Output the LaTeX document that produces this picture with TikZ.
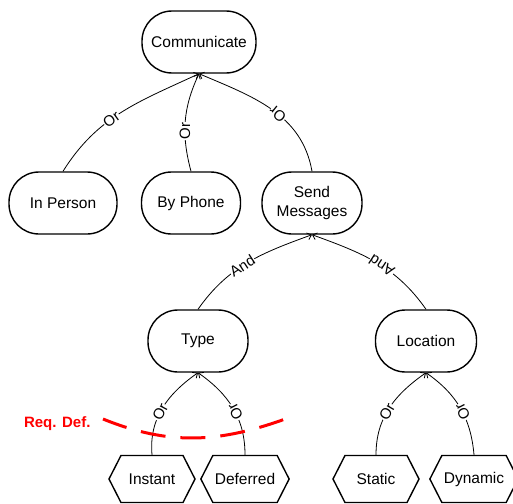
\documentclass[tikz,border=0pt]{standalone}
\usepackage{fontspec}
\setmainfont{Liberation Sans}
\usetikzlibrary{arrows.meta,shapes.symbols}

\begin{document}
\begin{tikzpicture}[x=1pt,y=1pt,
 every node/.style={font=\fontsize{15.5}{19}\selectfont},
 goal/.style={draw,line width=1.4pt,rounded corners=30pt,minimum height=62pt,align=center},
 task/.style={draw,line width=1.4pt,signal,signal to=west and east,signal pointer angle=126,minimum height=47pt,minimum width=86pt,inner xsep=2pt},
 arr/.style={-{Straight Barb[length=4pt,width=7pt]},line width=0.8pt},
 lab/.style={sloped,allow upside down,fill=white,inner sep=0.5pt,pos=0.45,font=\fontsize{15}{17}\selectfont}]
\useasboundingbox (0,0) rectangle (513,-503);
% goals
\node[goal,minimum width=114pt] (comm) at (199,-42) {Communicate};
\node[goal,minimum width=108pt] (inp) at (63,-203) {In Person};
\node[goal,minimum width=99pt] (phone) at (191,-203) {By Phone};
\node[goal,minimum width=100pt] (send) at (312,-203) {Send\\Messages};
\node[goal,minimum width=100pt] (type) at (198,-341) {Type};
\node[goal,minimum width=101pt] (loc) at (426,-341) {Location};
% tasks
\node[task] (inst) at (152,-479) {Instant};
\node[task,minimum width=84pt] (def) at (245,-479) {Deferred};
\node[task] (stat) at (376,-479) {Static};
\node[task,minimum width=88pt] (dyn) at (474,-479) {Dynamic};
% decompositions
\draw[arr] (inp.north) to[out=58,in=205] node[lab,pos=0.42] {Or} (comm.south);
\draw[arr] (phone.north) to[out=105,in=245] node[lab,pos=0.4] {Or} (comm.south);
\draw[arr] (send.north) to[out=100,in=-23] node[lab] {Or} (comm.south);
\draw[arr] (type.north) to[out=55,in=200] node[lab] {And} (send.south);
\draw[arr] (loc.north) to[out=125,in=-20] node[lab] {And} (send.south);
\draw[arr] (inst.north) to[out=95,in=215] node[lab] {Or} (type.south);
\draw[arr] (def.north) to[out=90,in=-35] node[lab] {Or} (type.south);
\draw[arr] (stat.north) to[out=90,in=215] node[lab] {Or} (loc.south);
\draw[arr] (dyn.north) to[out=95,in=-35] node[lab] {Or} (loc.south);
% requirement boundary
\node[anchor=east,text=red,font=\bfseries\fontsize{15}{17}\selectfont] (req) at (94,-424) {Req. Def.};
\coordinate (rs) at (103,-419);
\coordinate (re) at (288,-418);
\draw[red,line width=3pt,dash pattern=on 25pt off 15pt] (rs) to[out=-22,in=200] (re);
\end{tikzpicture}
\end{document}
